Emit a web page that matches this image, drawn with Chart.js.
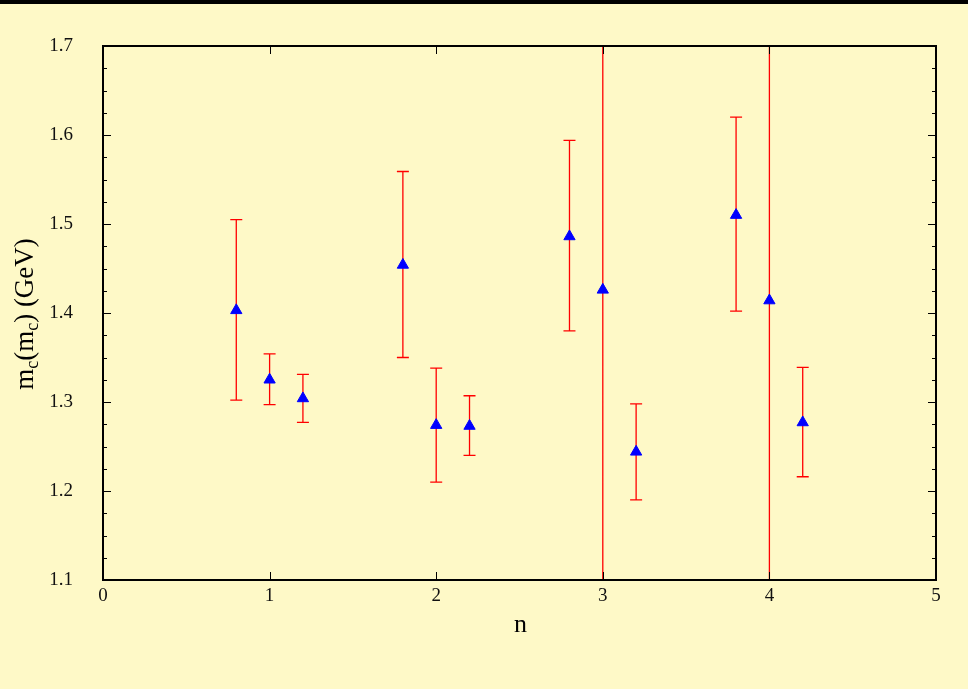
<!DOCTYPE html>
<html>
<head>
<meta charset="utf-8">
<script src="https://cdn.jsdelivr.net/npm/chart.js@4"></script>
<style>
	html, body { margin: 0; padding: 0; background: #fef9c7; }
	#wrap { width: 968px; height: 689px; }
</style>
</head>
<body>
<div id="wrap"><canvas id="chart1" width="968" height="689"></canvas></div>
<script>
const nValues = [0.8, 1.0, 1.2, 1.8, 2.0, 2.2, 2.8, 3.0, 3.2, 3.8, 4.0, 4.2];
const mcValues = [1.403, 1.325, 1.304, 1.454, 1.274, 1.273, 1.486, 1.426, 1.244, 1.510, 1.414, 1.277];
const errLow = [1.302, 1.297, 1.277, 1.350, 1.210, 1.240, 1.380, 1.1, 1.190, 1.402, 1.1, 1.216];
const errHigh = [1.505, 1.354, 1.331, 1.559, 1.338, 1.307, 1.594, 1.7, 1.298, 1.620, 1.7, 1.339];

const serif = "'Liberation Serif', 'DejaVu Serif', serif";

// background, top strip, error bars, frame with inward ticks, axis titles
const paper = {
	id: "paper",
	beforeDraw(chart) {
		const ctx = chart.ctx;
		ctx.save();
		ctx.fillStyle = "#fef9c7";
		ctx.fillRect(0, 0, chart.width, chart.height);
		ctx.fillStyle = "#000";
		ctx.fillRect(0, 0, chart.width, 4);
		ctx.restore();
	},
	beforeDatasetsDraw(chart) {
		const ctx = chart.ctx;
		const x = chart.scales.x, y = chart.scales.y;
		ctx.save();
		ctx.strokeStyle = "rgb(255, 0, 0)";
		ctx.lineWidth = 1.3;
		ctx.beginPath();
		nValues.forEach((n, i) => {
			const px = x.getPixelForValue(n);
			const top = y.getPixelForValue(errHigh[i]);
			const bot = y.getPixelForValue(errLow[i]);
			ctx.moveTo(px, top);
			ctx.lineTo(px, bot);
			ctx.moveTo(px - 6, top);
			ctx.lineTo(px + 6, top);
			ctx.moveTo(px - 6, bot);
			ctx.lineTo(px + 6, bot);
		});
		ctx.stroke();
		ctx.restore();
	},
	afterDraw(chart) {
		const ctx = chart.ctx;
		const a = chart.chartArea;
		const x = chart.scales.x, y = chart.scales.y;
		ctx.save();
		ctx.strokeStyle = "#000";
		ctx.lineWidth = 1;
		ctx.beginPath();
		for (let v = 1.1; v <= 1.7001; v += 0.025) {
			const py = Math.round(y.getPixelForValue(v)) + 0.5;
			const major = Math.abs(Math.round(v * 10) - v * 10) < 0.01;
			const len = major ? 8 : 4;
			ctx.moveTo(a.left, py);
			ctx.lineTo(a.left + len, py);
			ctx.moveTo(a.right, py);
			ctx.lineTo(a.right - len, py);
		}
		for (let v = 1; v <= 4; v++) {
			const px = Math.round(x.getPixelForValue(v)) + 0.5;
			ctx.moveTo(px, a.bottom);
			ctx.lineTo(px, a.bottom - 8);
			ctx.moveTo(px, a.top);
			ctx.lineTo(px, a.top + 8);
		}
		ctx.stroke();
		ctx.lineWidth = 2;
		ctx.strokeRect(a.left, a.top, a.right - a.left, a.bottom - a.top);

		ctx.fillStyle = "#000";
		ctx.font = "26px " + serif;
		ctx.textAlign = "center";
		ctx.textBaseline = "middle";
		ctx.fillText("n", (a.left + a.right) / 2 + 1, 625);

		// y title with subscripts
		ctx.translate(25, (a.top + a.bottom) / 2 + 1);
		ctx.rotate(-Math.PI / 2);
		const parts = [
			["m", false], ["c", true], ["(m", false], ["c", true], [") (GeV)", false],
		];
		const big = "27px " + serif, small = "18px " + serif;
		let total = 0;
		parts.forEach(([t, sub]) => {
			ctx.font = sub ? small : big;
			total += ctx.measureText(t).width;
		});
		let cx = -total / 2;
		ctx.textAlign = "left";
		ctx.textBaseline = "alphabetic";
		parts.forEach(([t, sub]) => {
			ctx.font = sub ? small : big;
			ctx.fillText(t, cx, sub ? 13 : 8);
			cx += ctx.measureText(t).width;
		});
		ctx.restore();
	},
};

new Chart(document.getElementById("chart1"), {
	type: "scatter",
	data: {
		datasets: [
			{
				label: "mc",
				data: nValues.map((n, i) => ({ x: n, y: mcValues[i] })),
				pointStyle: "triangle",
				pointRadius: 6.5,
				pointHoverRadius: 6.5,
				backgroundColor: "#0000ff",
				borderColor: "#0000ff",
				borderWidth: 1,
			},
		],
	},
	options: {
		responsive: false,
		animation: false,
		layout: { padding: { top: 46, right: 32, left: 0, bottom: 0 } },
		plugins: {
			legend: { display: false },
			tooltip: { enabled: false },
		},
		scales: {
			x: {
				type: "linear",
				min: 0,
				max: 5,
				grid: { display: false, drawTicks: false },
				border: { display: false },
				afterFit: (s) => { s.height = 109; },
				ticks: {
					stepSize: 1,
					padding: 5,
					color: "#111",
					font: { family: serif, size: 19 },
				},
			},
			y: {
				type: "linear",
				min: 1.1,
				max: 1.7,
				grid: { display: false, drawTicks: false },
				border: { display: false },
				afterFit: (s) => { s.width = 103; },
				ticks: {
					stepSize: 0.1,
					padding: 30,
					color: "#111",
					font: { family: serif, size: 19 },
					callback: (v) => v.toFixed(1),
				},
			},
		},
	},
	plugins: [paper],
});
</script>
</body>
</html>
